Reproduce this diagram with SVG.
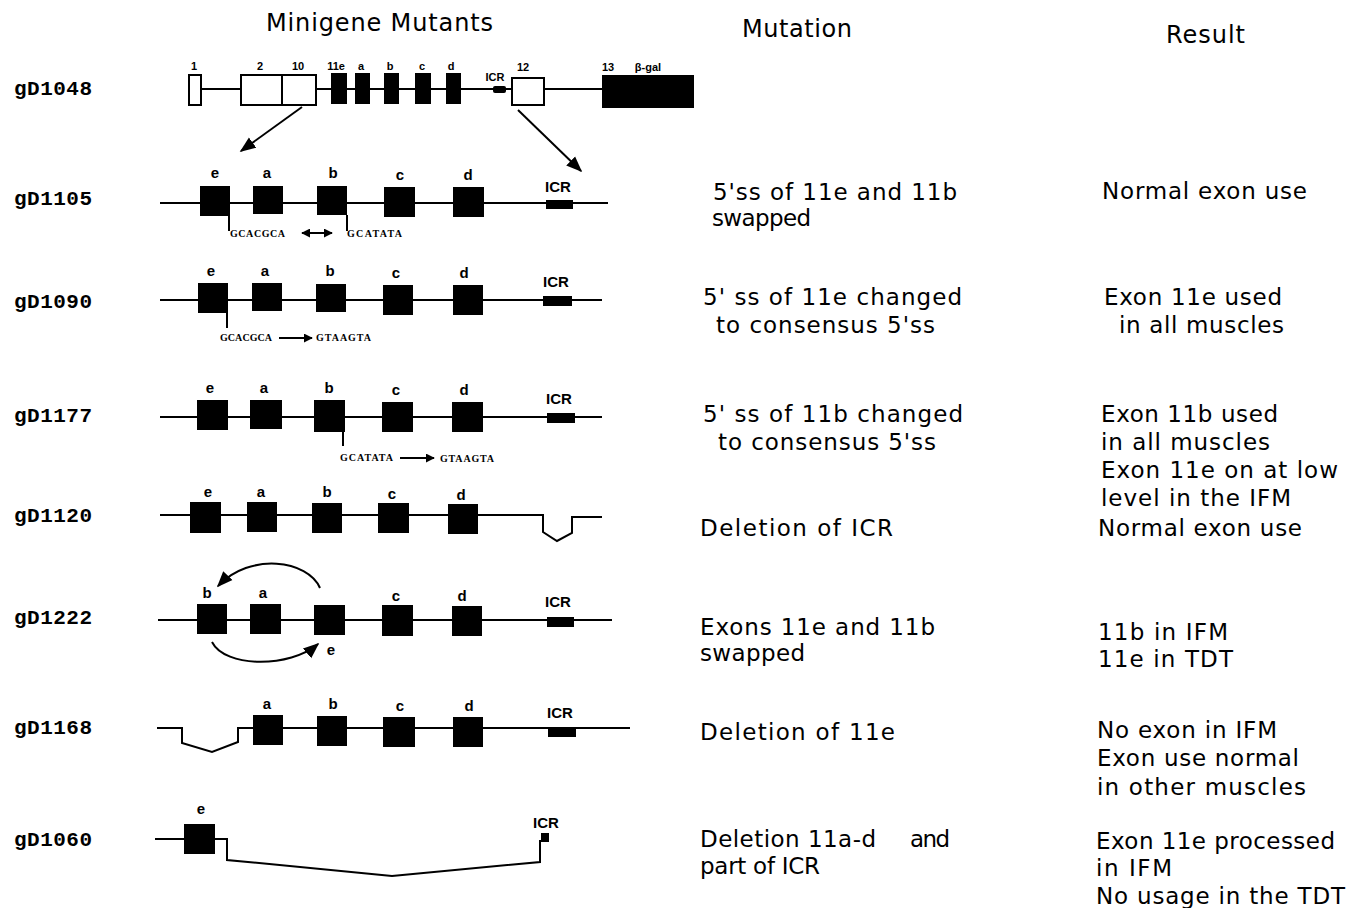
<svg xmlns="http://www.w3.org/2000/svg" width="1358" height="908" viewBox="0 0 1358 908">
<defs>
<marker id="ah" viewBox="0 0 10 10" refX="9" refY="5" markerWidth="9" markerHeight="9" markerUnits="userSpaceOnUse" orient="auto-start-reverse"><path d="M0,0 L10,5 L0,10 z" fill="#000"/></marker>
<marker id="ahB" viewBox="0 0 10 10" refX="9" refY="5" markerWidth="16" markerHeight="16" markerUnits="userSpaceOnUse" orient="auto"><path d="M0,1 L10,5 L0,9 z" fill="#000"/></marker>
</defs>
<style>
.ln{stroke:#000;stroke-width:2;fill:none}
.ex{fill:#000}
.wx{fill:#fff;stroke:#000;stroke-width:2}
.rl{font-family:"Liberation Mono",monospace;font-weight:bold;font-size:21px;fill:#000}
.tx{font-family:"DejaVu Sans","Liberation Sans",sans-serif;font-size:23px;fill:#000}
.hd{font-family:"DejaVu Sans","Liberation Sans",sans-serif;font-size:24px;fill:#000}
.lb{font-family:"Liberation Sans",Arial,sans-serif;font-weight:bold;font-size:15px;fill:#000;text-anchor:middle}
.sm{font-family:"Liberation Sans",Arial,sans-serif;font-weight:bold;font-size:11px;fill:#000;text-anchor:middle}
.sq{font-family:"Liberation Serif",serif;font-weight:bold;font-size:10px;fill:#000}
</style>
<rect width="1358" height="908" fill="#fff"/>

<g id="headers">
<text class="hd" x="266" y="31" textLength="227" lengthAdjust="spacing">Minigene  Mutants</text>
<text class="hd" x="742" y="37" textLength="110" lengthAdjust="spacing">Mutation</text>
<text class="hd" x="1166" y="43" textLength="79" lengthAdjust="spacing">Result</text>
</g>

<g id="row-labels">
<text class="rl" x="14" y="95" textLength="78">gD1048</text>
<text class="rl" x="14" y="205" textLength="78">gD1105</text>
<text class="rl" x="14" y="308" textLength="78">gD1090</text>
<text class="rl" x="14" y="422" textLength="78">gD1177</text>
<text class="rl" x="14" y="522" textLength="78">gD1120</text>
<text class="rl" x="14" y="624" textLength="78">gD1222</text>
<text class="rl" x="14" y="734" textLength="78">gD1168</text>
<text class="rl" x="14" y="846" textLength="78">gD1060</text>
</g>

<g id="gD1048">
<path class="ln" d="M201,89 H241 M316,89 H512 M544,89 H602"/>
<rect class="wx" x="189" y="75" width="12" height="30"/>
<rect class="wx" x="241" y="75" width="41" height="30"/>
<rect class="wx" x="282" y="75" width="34" height="30"/>
<rect class="ex" x="331" y="73" width="16" height="31"/>
<rect class="ex" x="355" y="73" width="15" height="31"/>
<rect class="ex" x="384" y="73" width="15" height="31"/>
<rect class="ex" x="415" y="73" width="16" height="31"/>
<rect class="ex" x="446" y="73" width="15" height="31"/>
<rect class="ex" x="493" y="86" width="13" height="7" rx="2"/>
<rect class="wx" x="512" y="78" width="32" height="27"/>
<rect class="ex" x="602" y="75" width="92" height="33"/>
<text class="sm" x="194" y="70">1</text>
<text class="sm" x="260" y="70">2</text>
<text class="sm" x="298" y="70">10</text>
<text class="sm" x="336" y="70">11e</text>
<text class="sm" x="361" y="70">a</text>
<text class="sm" x="390" y="70">b</text>
<text class="sm" x="422" y="70">c</text>
<text class="sm" x="451" y="70">d</text>
<text class="sm" x="495" y="81" font-weight="normal">ICR</text>
<text class="sm" x="523" y="71">12</text>
<text class="sm" x="608" y="71">13</text>
<text class="sm" x="648" y="71">β-gal</text>
</g>

<g id="connectors">
<line class="ln" x1="302" y1="107" x2="241" y2="151" marker-end="url(#ahB)"/>
<line class="ln" x1="518" y1="110" x2="581" y2="171" marker-end="url(#ahB)"/>
</g>

<g id="gD1105">
<path class="ln" d="M160,203 H608"/>
<rect class="ex" x="200" y="186" width="30" height="30"/>
<rect class="ex" x="253" y="186" width="30" height="28"/>
<rect class="ex" x="317" y="186" width="30" height="29"/>
<rect class="ex" x="384" y="187" width="31" height="30"/>
<rect class="ex" x="453" y="187" width="31" height="30"/>
<rect class="ex" x="546" y="200" width="27" height="9"/>
<text class="lb" x="215" y="178">e</text>
<text class="lb" x="267" y="178">a</text>
<text class="lb" x="333" y="178">b</text>
<text class="lb" x="400" y="180">c</text>
<text class="lb" x="468" y="180">d</text>
<text class="lb" x="558" y="192" font-weight="normal">ICR</text>
<path class="ln" stroke-width="1.5" d="M229,216 V231 M347,215 V231"/>
<text class="sq" x="230" y="237" textLength="55">GCACGCA</text>
<line class="ln" stroke-width="1.5" x1="302" y1="233" x2="332" y2="233" marker-start="url(#ah)" marker-end="url(#ah)"/>
<text class="sq" x="347" y="237" textLength="55">GCATATA</text>
</g>

<g id="gD1090">
<path class="ln" d="M160,300 H602"/>
<rect class="ex" x="198" y="283" width="30" height="30"/>
<rect class="ex" x="252" y="283" width="30" height="28"/>
<rect class="ex" x="316" y="284" width="30" height="28"/>
<rect class="ex" x="383" y="285" width="30" height="30"/>
<rect class="ex" x="453" y="285" width="30" height="30"/>
<rect class="ex" x="543" y="296" width="29" height="10"/>
<text class="lb" x="211" y="276">e</text>
<text class="lb" x="265" y="276">a</text>
<text class="lb" x="330" y="276">b</text>
<text class="lb" x="396" y="278">c</text>
<text class="lb" x="464" y="278">d</text>
<text class="lb" x="556" y="287" font-weight="normal">ICR</text>
<path class="ln" stroke-width="1.5" d="M227,313 V328"/>
<text class="sq" x="220" y="341" textLength="52">GCACGCA</text>
<line class="ln" stroke-width="1.5" x1="279" y1="338" x2="312" y2="338" marker-end="url(#ah)"/>
<text class="sq" x="316" y="341" textLength="55">GTAAGTA</text>
</g>

<g id="gD1177">
<path class="ln" d="M160,417 H602"/>
<rect class="ex" x="197" y="400" width="31" height="30"/>
<rect class="ex" x="250" y="400" width="32" height="29"/>
<rect class="ex" x="314" y="400" width="31" height="32"/>
<rect class="ex" x="382" y="402" width="31" height="30"/>
<rect class="ex" x="452" y="402" width="31" height="30"/>
<rect class="ex" x="547" y="413" width="28" height="10"/>
<text class="lb" x="210" y="393">e</text>
<text class="lb" x="264" y="393">a</text>
<text class="lb" x="329" y="393">b</text>
<text class="lb" x="396" y="395">c</text>
<text class="lb" x="464" y="395">d</text>
<text class="lb" x="559" y="404" font-weight="normal">ICR</text>
<path class="ln" stroke-width="1.5" d="M343,432 V446"/>
<text class="sq" x="340" y="461" textLength="53">GCATATA</text>
<line class="ln" stroke-width="1.5" x1="400" y1="458" x2="434" y2="458" marker-end="url(#ah)"/>
<text class="sq" x="440" y="462" textLength="54">GTAAGTA</text>
</g>

<g id="gD1120">
<path class="ln" d="M160,515 H543 V532 L557,541 L572,533 V517 H602"/>
<rect class="ex" x="190" y="502" width="31" height="31"/>
<rect class="ex" x="247" y="502" width="30" height="30"/>
<rect class="ex" x="312" y="503" width="30" height="30"/>
<rect class="ex" x="378" y="503" width="31" height="30"/>
<rect class="ex" x="448" y="504" width="30" height="30"/>
<text class="lb" x="208" y="497">e</text>
<text class="lb" x="261" y="497">a</text>
<text class="lb" x="327" y="497">b</text>
<text class="lb" x="392" y="499">c</text>
<text class="lb" x="461" y="500">d</text>
</g>

<g id="gD1222">
<path class="ln" d="M158,620 H612"/>
<rect class="ex" x="197" y="604" width="30" height="30"/>
<rect class="ex" x="250" y="604" width="31" height="30"/>
<rect class="ex" x="314" y="605" width="31" height="30"/>
<rect class="ex" x="382" y="605" width="31" height="31"/>
<rect class="ex" x="452" y="606" width="30" height="30"/>
<rect class="ex" x="547" y="617" width="27" height="10"/>
<text class="lb" x="207" y="598">b</text>
<text class="lb" x="263" y="598">a</text>
<text class="lb" x="396" y="601">c</text>
<text class="lb" x="462" y="601">d</text>
<text class="lb" x="558" y="607" font-weight="normal">ICR</text>
<text class="lb" x="331" y="655">e</text>
<path class="ln" d="M320,588 C308,560 250,552 218,586" marker-end="url(#ahB)"/>
<path class="ln" d="M212,642 C225,668 290,668 318,644" marker-end="url(#ahB)"/>
</g>

<g id="gD1168">
<path class="ln" d="M157,728 H182 V743 L212,752 L238,742 V728 H630"/>
<rect class="ex" x="253" y="715" width="30" height="30"/>
<rect class="ex" x="317" y="716" width="30" height="30"/>
<rect class="ex" x="383" y="717" width="32" height="30"/>
<rect class="ex" x="453" y="717" width="30" height="30"/>
<rect class="ex" x="548" y="727" width="28" height="10"/>
<text class="lb" x="267" y="709">a</text>
<text class="lb" x="333" y="709">b</text>
<text class="lb" x="400" y="711">c</text>
<text class="lb" x="469" y="711">d</text>
<text class="lb" x="560" y="718" font-weight="normal">ICR</text>
</g>

<g id="gD1060">
<path class="ln" d="M155,839 H184 M215,839 H227 V860 L392,876 L540,862 V840"/>
<rect class="ex" x="184" y="824" width="31" height="30"/>
<rect class="ex" x="541" y="833" width="8" height="9"/>
<text class="lb" x="201" y="814">e</text>
<text class="lb" x="546" y="828" font-weight="normal">ICR</text>
</g>

<g id="mutation-column">
<text class="tx" x="713" y="200" textLength="244" lengthAdjust="spacing">5'ss of 11e and 11b</text>
<text class="tx" x="712" y="226" textLength="99" lengthAdjust="spacing">swapped</text>
<text class="tx" x="703" y="305" textLength="259" lengthAdjust="spacing">5' ss of 11e changed</text>
<text class="tx" x="716" y="333" textLength="219" lengthAdjust="spacing">to consensus 5'ss</text>
<text class="tx" x="703" y="422" textLength="260" lengthAdjust="spacing">5' ss of 11b changed</text>
<text class="tx" x="718" y="450" textLength="218" lengthAdjust="spacing">to consensus 5'ss</text>
<text class="tx" x="700" y="536" textLength="193" lengthAdjust="spacing">Deletion of ICR</text>
<text class="tx" x="700" y="635" textLength="235" lengthAdjust="spacing">Exons 11e and 11b</text>
<text class="tx" x="700" y="661" textLength="105" lengthAdjust="spacing">swapped</text>
<text class="tx" x="700" y="740" textLength="195" lengthAdjust="spacing">Deletion of 11e</text>
<text class="tx" x="700" y="847" textLength="176" lengthAdjust="spacing">Deletion 11a-d</text>
<text class="tx" x="910" y="847" textLength="40" lengthAdjust="spacing">and</text>
<text class="tx" x="700" y="874" textLength="120" lengthAdjust="spacing">part of ICR</text>
</g>

<g id="result-column">
<text class="tx" x="1102" y="199" textLength="205" lengthAdjust="spacing">Normal exon use</text>
<text class="tx" x="1104" y="305" textLength="178" lengthAdjust="spacing">Exon 11e used</text>
<text class="tx" x="1119" y="333" textLength="165" lengthAdjust="spacing">in all muscles</text>
<text class="tx" x="1101" y="422" textLength="177" lengthAdjust="spacing">Exon 11b used</text>
<text class="tx" x="1101" y="450" textLength="169" lengthAdjust="spacing">in all muscles</text>
<text class="tx" x="1101" y="478" textLength="237" lengthAdjust="spacing">Exon 11e on at low</text>
<text class="tx" x="1101" y="506" textLength="190" lengthAdjust="spacing">level in the IFM</text>
<text class="tx" x="1098" y="536" textLength="204" lengthAdjust="spacing">Normal exon use</text>
<text class="tx" x="1098" y="640" textLength="130" lengthAdjust="spacing">11b in IFM</text>
<text class="tx" x="1098" y="667" textLength="135" lengthAdjust="spacing">11e in TDT</text>
<text class="tx" x="1097" y="738" textLength="180" lengthAdjust="spacing">No exon in IFM</text>
<text class="tx" x="1097" y="766" textLength="202" lengthAdjust="spacing">Exon use normal</text>
<text class="tx" x="1097" y="795" textLength="209" lengthAdjust="spacing">in other muscles</text>
<text class="tx" x="1096" y="849" textLength="239" lengthAdjust="spacing">Exon 11e processed</text>
<text class="tx" x="1096" y="876" textLength="76" lengthAdjust="spacing">in IFM</text>
<text class="tx" x="1096" y="904" textLength="249" lengthAdjust="spacing">No usage in the TDT</text>
</g>
</svg>
